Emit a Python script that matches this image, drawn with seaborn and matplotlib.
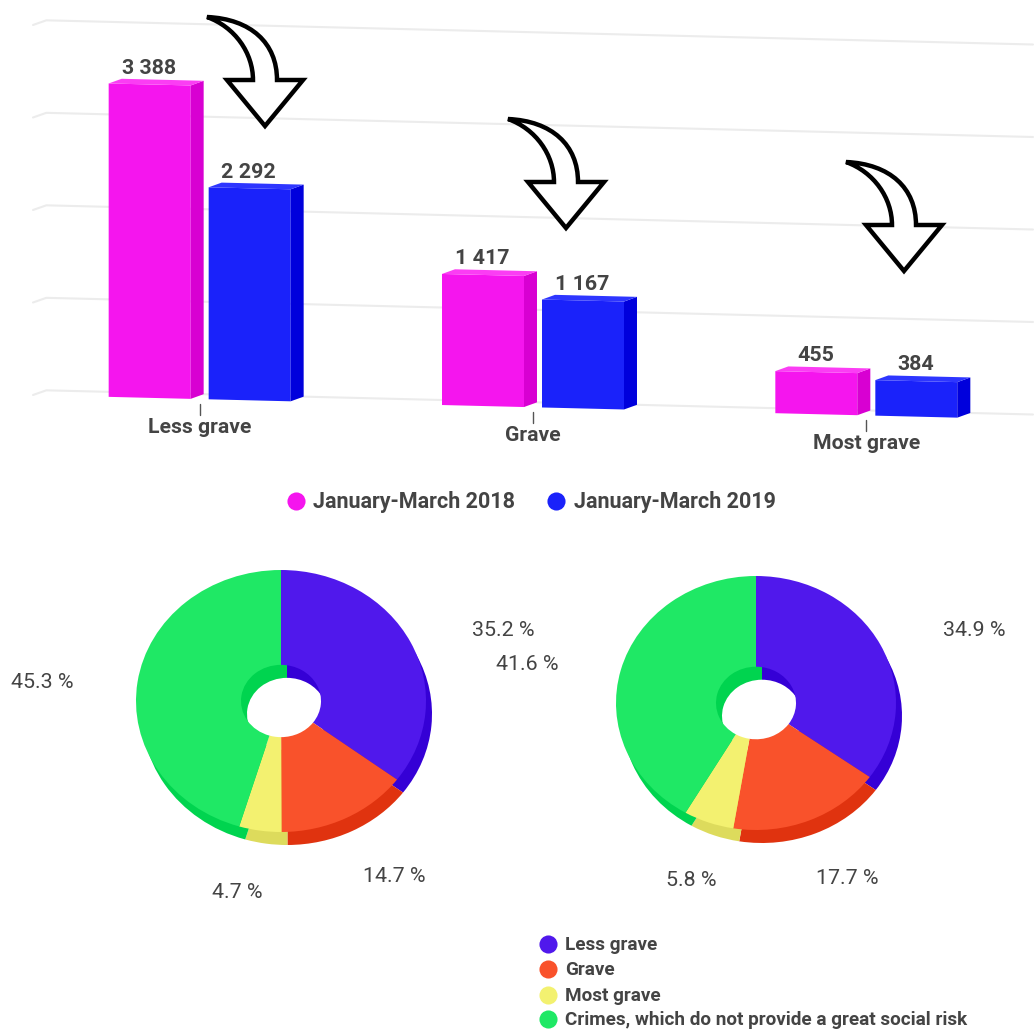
import matplotlib
matplotlib.use("Agg")
import matplotlib.pyplot as plt
import pandas as pd
import seaborn as sns
from matplotlib.patches import PathPatch, Polygon
from matplotlib.path import Path
from matplotlib.transforms import Affine2D

categories = ["Less grave", "Grave", "Most grave"]
periods = ["January-March 2018", "January-March 2019"]
values_2018 = [3388, 1417, 455]
values_2019 = [2292, 1167, 384]
pie_labels = ["Less grave", "Grave", "Most grave", "Crimes, which do not provide a great social risk"]
shares_2018 = [35.2, 14.7, 4.7, 45.3]
shares_2019 = [34.9, 17.7, 5.8, 41.6]

bar_colors = ["#F515EE", "#1A22FA"]
bar_side = ["#D800D2", "#0000DC"]
bar_top = ["#FB3DF4", "#2E36FF"]
pie_colors = ["#5018EC", "#F9522B", "#F3F170", "#1FE865"]
pie_dark = ["#3500D6", "#E0330F", "#DDDB5C", "#00D44F"]
text_color = "#444444"

W, H = 1034, 1030
sns.set_theme(style="white")
plt.rcParams["font.family"] = ["Roboto", "DejaVu Sans"]
fig = plt.figure(figsize=(W / 100, H / 100), dpi=100)


def box(left, top, width, height):
    return [left / W, 1 - (top + height) / H, width / W, height / H]


# bar chart, the whole thing leans down to the right
ax = fig.add_axes(box(33, 25, 1000, 370))
df = pd.DataFrame({
    "category": categories * 2,
    "period": [periods[0]] * 3 + [periods[1]] * 3,
    "value": values_2018 + values_2019,
})
sns.barplot(data=df, x="category", y="value", hue="period", palette=bar_colors, saturation=1,
            width=0.6, gap=0.18, linewidth=0, legend=False, ax=ax, zorder=3)
ax.set_xlim(-0.5, 2.5)
ax.set_ylim(0, 4000)
ax.axis("off")

slope = 0.0245
lean = Affine2D.from_values(1, -slope, 0, 1, 0, slope * 33)
leaned = ax.transData + lean

dx, dy = 13 / 333.5, 5 * 4000 / 370

# grid sits on the back plane of the bars
for g in range(5):
    ax.plot([-0.5, -0.46, 2.5], [g * 1000, g * 1000 + dy, g * 1000 + dy], color="#ececec", lw=1.5,
            transform=leaned, clip_on=False, zorder=1)

bars = list(ax.patches)
for n, p in enumerate(bars):
    s = n // 3
    x0, w, h = p.get_x(), p.get_width(), p.get_height()
    x1 = x0 + w
    p.set_transform(leaned)
    p.set_clip_on(False)
    side = Polygon([(x1, 0), (x1 + dx, dy), (x1 + dx, h + dy), (x1, h)], facecolor=bar_side[s],
                   linewidth=0, transform=leaned, clip_on=False, zorder=3)
    top = Polygon([(x0, h), (x0 + dx, h + dy), (x1 + dx, h + dy), (x1, h)], facecolor=bar_top[s],
                  linewidth=0, transform=leaned, clip_on=False, zorder=3)
    ax.add_patch(side)
    ax.add_patch(top)
    label = f"{int(h):,}".replace(",", " ")
    ax.text(x0 + w / 2 - 0.003, h + 175, label, transform=leaned, ha="center", va="center",
            fontsize=15.4, fontweight="bold", color=text_color)

for i, name in enumerate(categories):
    ax.plot([i, i], [-50, -170], color="#555555", lw=1, transform=leaned, clip_on=False)
    ax.text(i, -303, name, transform=leaned, ha="center", va="center",
            fontsize=15.2, fontweight="bold", color=text_color)


def draw_pie(shares, cx, cy, rx, ry):
    pax = fig.add_axes(box(cx - 1.25 * rx, cy - 1.25 * ry, 2.5 * rx, 2.5 * ry))
    hole = 40 / rx
    for colors, center in [(pie_dark, (6 / rx, -13 / ry)), (pie_colors, (0, 0))]:
        pax.pie(shares, colors=colors, startangle=90, counterclock=False, center=center,
                wedgeprops={"width": 1 - hole, "linewidth": 0})
    pax.set_aspect("auto")
    pax.set_xlim(-1.25, 1.25)
    pax.set_ylim(-1.25, 1.25)
    pax.axis("off")


draw_pie(shares_2018, 281, 701, 145, 131)
draw_pie(shares_2019, 756, 703, 140, 127)

# overlay in picture pixels for arrows, legends and the pie labels
over = fig.add_axes([0, 0, 1, 1], zorder=10)
over.set_xlim(0, W)
over.set_ylim(H, 0)
over.axis("off")
over.patch.set_alpha(0)

arrow_start = [(207, 17), (508, 119), (846, 162)]
for sx, sy in arrow_start:
    verts = [(0, 0), (44, 2), (70, 26), (70, 63), (96, 63), (58, 109), (20, 63), (46, 63),
             (46, 36), (28, 10), (0, 0), (0, 0)]
    codes = [Path.MOVETO, Path.CURVE4, Path.CURVE4, Path.CURVE4, Path.LINETO, Path.LINETO,
             Path.LINETO, Path.LINETO, Path.CURVE4, Path.CURVE4, Path.CURVE4, Path.CLOSEPOLY]
    arrow = Path([(sx + a, sy + b) for a, b in verts], codes)
    over.add_patch(PathPatch(arrow, facecolor="white", edgecolor="black", lw=3.2, joinstyle="miter"))

for x_dot, x_txt, name, color in zip([296, 556], [313, 574], periods, bar_colors):
    over.scatter([x_dot], [501], s=170, color=color, linewidths=0)
    over.text(x_txt, 502, name, va="center", fontsize=15.5, fontweight="bold", color=text_color)

for y, name, color in zip([944, 969, 995, 1019], pie_labels, pie_colors):
    over.scatter([548], [y], s=170, color=color, linewidths=0)
    over.text(565, y + 1, name, va="center", fontsize=13.6, fontweight="bold", color=text_color)

pos_2018 = [(503, 630), (394, 876), (237, 892), (42, 682)]
pos_2019 = [(974, 631), (847, 878), (691, 881), (527, 665)]
for shares, pos in [(shares_2018, pos_2018), (shares_2019, pos_2019)]:
    for v, (x, y) in zip(shares, pos):
        over.text(x, y, f"{v} %", ha="center", va="center", fontsize=15.4, color=text_color)

fig.savefig("out.png", dpi=100)
